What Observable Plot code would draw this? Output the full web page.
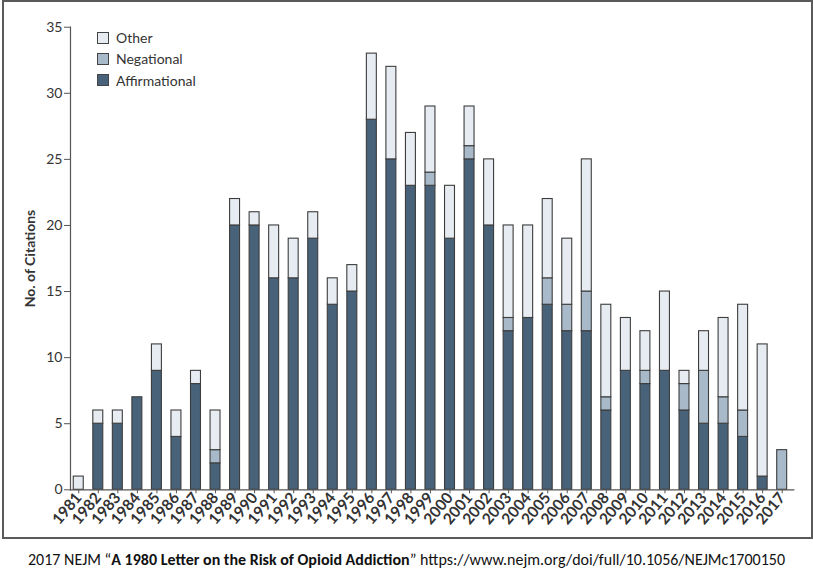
<!DOCTYPE html>
<html>
<head>
<meta charset="utf-8">
<script src="https://cdn.jsdelivr.net/npm/d3@7"></script>
<script src="https://cdn.jsdelivr.net/npm/@observablehq/plot@0.6"></script>
<style>
  html, body { margin: 0; padding: 0; background: #fff; }
  body { position: relative; width: 813px; height: 570px; overflow: hidden; font-family: Lato, "Open Sans", sans-serif; }
  #chart { position: absolute; left: 0; top: 0; }
  #frame { position: absolute; left: 2px; top: 0px; width: 807px; height: 535px; border: 2px solid #5a5a5a; pointer-events: none; }
  #legend { position: absolute; left: 97px; top: 27px; font-family: Lato, sans-serif; font-size: 14px; color: #333; }
  #legend .row { display: flex; align-items: center; height: 21.3px; }
  #legend .sw { width: 10px; height: 10px; border: 1px solid #444; margin-right: 7px; }
  #caption { position: absolute; left: 0; top: 550px; width: 813px; text-align: center; font-family: Carlito, Calibri, "Liberation Sans Narrow", "Open Sans", sans-serif; font-size: 16px; color: #111; white-space: nowrap; }
</style>
</head>
<body>
<div id="chart"></div>
<div id="legend"></div>
<div id="frame"></div>
<div id="caption">2017 NEJM “<b>A 1980 Letter on the Risk of Opioid Addiction</b>” https://www.nejm.org/doi/full/10.1056/NEJMc1700150</div>
<script>
const years = ["1981","1982","1983","1984","1985","1986","1987","1988","1989","1990","1991","1992","1993","1994","1995","1996","1997","1998","1999","2000","2001","2002","2003","2004","2005","2006","2007","2008","2009","2010","2011","2012","2013","2014","2015","2016","2017"];
const affirmational = [0,5,5,7,9,4,8,2,20,20,16,16,19,14,15,28,25,23,23,19,25,20,12,13,14,12,12,6,9,8,9,6,5,5,4,1,0];
const negational    = [0,0,0,0,0,0,0,1,0,0,0,0,0,0,0,0,0,0,1,0,1,0,1,0,2,2,3,1,0,1,0,2,4,2,2,0,3];
const other         = [1,1,1,0,2,2,1,3,2,1,4,3,2,2,2,5,7,4,5,4,3,5,7,7,6,5,10,7,4,3,6,1,3,6,8,10,0];
const seriesNames = ["Affirmational","Negational","Other"];
const seriesColors = ["#476279","#a8b9c9","#e6ecf1"];
const yTicks = [0,5,10,15,20,25,30,35];

const seriesValues = [affirmational, negational, other];
const data = [];
seriesNames.forEach((s, si) => {
  years.forEach((yr, i) => {
    const v = seriesValues[si][i];
    if (v > 0) data.push({year: yr, type: s, value: v});
  });
});

const W = 813, H = 540;
const chart = Plot.plot({
  width: W,
  height: H,
  marginLeft: 70,
  marginRight: 19.7,
  marginTop: 26.7,
  marginBottom: 50.7,
  style: {fontFamily: "Lato, 'Open Sans', sans-serif", color: "#333", background: "transparent"},
  x: {domain: years, paddingInner: 0.49, paddingOuter: 0.253, align: 0.33, round: false, label: null},
  y: {domain: [0, 35], ticks: yTicks, label: "No. of Citations"},
  color: {domain: seriesNames, range: seriesColors},
  marks: [
    Plot.barY(data, {x: "year", y: "value", fill: "type", stroke: "#3d3d3d", strokeWidth: 1.1, order: seriesNames}),
    Plot.frame({anchor: "left", stroke: "#555", strokeWidth: 1.2}),
    Plot.frame({anchor: "bottom", stroke: "#555", strokeWidth: 1.2}),
    Plot.axisY({ticks: yTicks, tickSize: 6, tickPadding: 2, fontSize: 14, stroke: "#555",
      label: "No. of Citations", labelAnchor: "center", labelArrow: "none", labelOffset: 45}),
    Plot.axisX({tickRotate: -50, tickSize: 4, tickPadding: 1, fontSize: 15.5, fontWeight: "bold", stroke: "#555", label: null})
  ]
});
document.getElementById("chart").appendChild(chart);
// bold y label
chart.querySelectorAll("g[aria-label='y-axis label'] text").forEach(t => { t.setAttribute("font-weight", "bold"); t.setAttribute("font-size", "14"); });

const legend = document.getElementById("legend");
[["Other", seriesColors[2]], ["Negational", seriesColors[1]], ["Affirmational", seriesColors[0]]].forEach(([name, col]) => {
  const row = document.createElement("div");
  row.className = "row";
  const sw = document.createElement("div");
  sw.className = "sw";
  sw.style.background = col;
  row.appendChild(sw);
  const t = document.createElement("span");
  t.textContent = name;
  row.appendChild(t);
  legend.appendChild(row);
});
</script>
</body>
</html>
